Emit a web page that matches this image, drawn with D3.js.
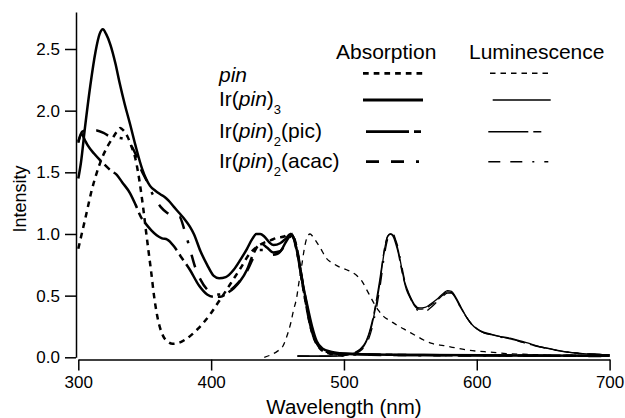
<!DOCTYPE html>
<html><head><meta charset="utf-8">
<script src="https://cdn.jsdelivr.net/npm/d3@7/dist/d3.min.js"></script>
<style>body{margin:0;background:#fff}svg{display:block}</style>
</head><body>
<svg id="c" width="625" height="418"></svg>
<script>
// ---- data ----
const xTicks = [300, 400, 500, 600, 700];
const yTicks = [0, 0.5, 1.0, 1.5, 2.0, 2.5];
const legendHeaders = ["Absorption", "Luminescence"];

const pinAbs = [[300,0.88],[303,1.02],[306,1.16],[310,1.35],[314,1.5],[318,1.62],[322,1.71],[326,1.78],[329,1.83],[331.5,1.86],[334,1.84],[337,1.79],[340,1.71],[343,1.61],[345,1.5],[347,1.36],[349,1.2],[351,1.02],[353,0.85],[355,0.68],[357,0.5],[359,0.36],[361,0.26],[364,0.17],[367,0.13],[371,0.11],[375,0.115],[380,0.14],[385,0.18],[390,0.23],[395,0.29],[400,0.36],[405,0.44],[410,0.52],[416,0.62],[422,0.72],[429,0.84],[435,0.9],[440,0.93],[445,0.95],[450,0.97],[455,0.98],[459,1.0],[461,0.99],[463,0.93],[466,0.78],[469,0.58],[472,0.4],[475,0.24],[478,0.14],[482,0.07],[488,0.035],[495,0.02],[500,0.015]];

const ir3Abs = [[300,1.45],[302,1.58],[305,1.86],[309,2.2],[313,2.48],[316,2.62],[318.5,2.66],[321,2.62],[324,2.54],[328,2.38],[331,2.23],[335,2.05],[339,1.89],[343,1.72],[348,1.53],[354,1.39],[358,1.35],[362,1.32],[365,1.3],[368,1.27],[372,1.22],[376,1.17],[380,1.12],[384,1.06],[387,1.0],[392,0.86],[397,0.75],[402,0.66],[406,0.64],[411,0.65],[417,0.71],[422,0.79],[427,0.88],[431,0.96],[434,1.0],[437,1.0],[440,0.98],[444,0.93],[447,0.91],[452,0.925],[456,0.96],[460,1.0],[462,0.97],[464.5,0.87],[468,0.65],[472,0.44],[476,0.25],[479.5,0.13],[484,0.07],[490,0.045],[500,0.03],[520,0.022],[560,0.018],[620,0.015],[700,0.012]];

const picAbs = [[300,1.74],[302.5,1.81],[305,1.76],[307,1.72],[312,1.65],[319,1.57],[325,1.51],[329,1.48],[333,1.42],[339,1.33],[343,1.24],[347,1.14],[351,1.08],[355,1.03],[359,0.99],[363,0.965],[367,0.955],[372,0.9],[377,0.82],[384,0.71],[391,0.58],[397,0.51],[402,0.49],[407,0.49],[412,0.52],[417,0.56],[422,0.62],[427,0.71],[431,0.82],[435,0.9],[438,0.92],[442,0.89],[447,0.85],[452,0.86],[456,0.93],[459,0.98],[461,1.0],[463,0.95],[465,0.86],[468,0.66],[471,0.46],[474,0.29],[477,0.17],[481,0.09],[487,0.045],[495,0.03],[520,0.022],[560,0.018],[620,0.015],[700,0.012]];

const acacAbs = [[300,1.75],[303,1.83],[308,1.845],[314,1.84],[319,1.82],[324,1.79],[330,1.78],[335,1.77],[339,1.73],[343,1.65],[347,1.53],[352,1.42],[357,1.3],[362,1.22],[367,1.17],[372,1.14],[376,1.14],[380,1.03],[384,0.88],[388,0.73],[392,0.63],[397,0.55],[403,0.51],[408,0.51],[414,0.54],[420,0.6],[427,0.7],[432,0.81],[436,0.87],[440,0.87],[445,0.83],[450,0.84],[455,0.9],[459,0.97],[461,0.99],[463,0.94],[466,0.79],[469,0.6],[472,0.42],[475,0.26],[478,0.15],[482,0.08],[488,0.04],[495,0.028],[520,0.02],[560,0.017],[620,0.014],[700,0.011]];

const pinLum = [[440,0.0],[445,0.02],[450,0.05],[454,0.09],[457,0.17],[460,0.28],[462,0.38],[464.5,0.49],[466,0.6],[468,0.73],[470.5,0.9],[472.5,0.98],[474.5,1.0],[476.5,0.98],[478.5,0.95],[482,0.89],[487,0.8],[492,0.76],[497,0.73],[502,0.71],[506,0.69],[510,0.66],[514,0.61],[517,0.55],[520,0.49],[523,0.43],[526,0.38],[530,0.33],[535,0.295],[540,0.26],[545,0.23],[550,0.2],[555,0.17],[560,0.14],[567,0.11],[575,0.095],[580,0.085],[592,0.06],[600,0.05],[610,0.042],[622,0.03],[635,0.025],[648,0.02],[660,0.012]];

const ir3Lum = [[465,0.012],[480,0.01],[490,0.01],[498,0.012],[503,0.02],[508,0.035],[512,0.06],[515,0.09],[517,0.13],[519,0.19],[521,0.26],[523,0.36],[525,0.47],[527,0.6],[529,0.76],[531,0.9],[533,0.98],[535,1.0],[537,0.99],[539,0.94],[541,0.86],[543,0.75],[545,0.64],[547,0.57],[550,0.49],[553,0.43],[557,0.4],[561,0.405],[565,0.43],[570,0.47],[575,0.52],[578,0.54],[581,0.535],[584,0.49],[588,0.41],[592,0.33],[596,0.27],[600,0.23],[605,0.205],[610,0.19],[617,0.17],[625,0.155],[632,0.135],[640,0.11],[648,0.085],[655,0.07],[662,0.055],[670,0.04],[680,0.03],[690,0.025],[700,0.02]];

const picLum = [[465,0.01],[480,0.01],[490,0.01],[498,0.013],[503,0.022],[508,0.038],[512,0.065],[515,0.1],[517,0.14],[519,0.2],[521,0.28],[523,0.38],[525,0.5],[527,0.63],[529,0.78],[531,0.91],[533,0.985],[535,1.0],[537,0.98],[539,0.92],[541,0.84],[543,0.73],[545,0.63],[547,0.55],[550,0.48],[553,0.42],[557,0.39],[561,0.395],[565,0.42],[570,0.46],[575,0.51],[578,0.53],[581,0.525],[584,0.48],[588,0.4],[592,0.33],[596,0.27],[600,0.235],[605,0.2],[610,0.185],[617,0.17],[625,0.15],[632,0.13],[640,0.105],[648,0.085],[655,0.068],[662,0.052],[670,0.04],[680,0.03],[690,0.024],[700,0.02]];

const acacLum = [[465,0.01],[480,0.01],[490,0.01],[498,0.011],[503,0.017],[508,0.03],[512,0.05],[515,0.08],[517,0.11],[519,0.16],[521,0.23],[523,0.32],[525,0.43],[527,0.56],[529,0.71],[531,0.86],[533,0.96],[535,1.0],[537,1.0],[539,0.95],[541,0.88],[543,0.77],[545,0.66],[547,0.57],[550,0.48],[553,0.41],[557,0.375],[561,0.37],[565,0.4],[570,0.45],[575,0.5],[578,0.52],[581,0.52],[584,0.48],[588,0.4],[592,0.33],[596,0.27],[600,0.23],[605,0.2],[610,0.185],[617,0.165],[625,0.15],[632,0.13],[640,0.105],[648,0.083],[655,0.066],[662,0.052],[670,0.04],[680,0.03],[690,0.024],[700,0.02]];

// ---- drawing ----
const FONT = "'Liberation Sans', Arial, Helvetica, sans-serif";
const svg = d3.select("#c").style("font-family", FONT);
const x = d3.scaleLinear().domain([300, 700]).range([78.3, 609.6]);
const y = d3.scaleLinear().domain([0, 2.8]).range([357.3, 12]);

const dashes = {
  pinA: "5.7,5", pinL: "5.5,5",
  solid: null,
  picA: "43,5,7,5", picL: "40,5,8,5",
  acacA: "13,12,13,12,3,12", acacL: "12,10,12,10,2,10"
};
const ABSW = 2.5, LUMW = 1.3;

const series = [
  {d: pinLum,  w: LUMW, dash: dashes.pinL},
  {d: ir3Lum,  w: LUMW, dash: dashes.solid},
  {d: picLum,  w: LUMW, dash: dashes.picL},
  {d: acacLum, w: LUMW, dash: dashes.acacL},
  {d: pinAbs,  w: ABSW, dash: dashes.pinA},
  {d: acacAbs, w: ABSW, dash: dashes.acacA},
  {d: picAbs,  w: ABSW, dash: dashes.picA},
  {d: ir3Abs,  w: ABSW, dash: dashes.solid}
];

const line = d3.line().x(d => x(d[0])).y(d => y(d[1])).curve(d3.curveMonotoneX);
svg.append("g").selectAll("path").data(series).join("path")
  .attr("d", s => line(s.d))
  .attr("fill", "none").attr("stroke", "#000")
  .attr("stroke-width", s => s.w)
  .attr("stroke-linejoin", "round")
  .attr("stroke-dasharray", s => s.dash);

// axes
const yAxis = svg.append("g").attr("transform", "translate(76,0)")
  .call(d3.axisLeft(y).tickValues(yTicks).tickFormat(d3.format(".1f")).tickSize(11).tickSizeOuter(0).tickPadding(5));
const xAxis = svg.append("g").attr("transform", "translate(0,359.5)")
  .call(d3.axisBottom(x).tickValues(xTicks).tickFormat(d3.format("d")).tickSize(11).tickSizeOuter(0).tickPadding(5));
[yAxis, xAxis].forEach(g => {
  g.selectAll("path,line").attr("stroke", "#000").attr("stroke-width", 1.5);
  g.selectAll("text").attr("fill", "#000").style("font-size", "17px").style("font-family", FONT);
});

svg.append("text").attr("x", 344).attr("y", 414).attr("text-anchor", "middle")
  .style("font-size", "20.5px").text("Wavelength (nm)");
svg.append("text").attr("transform", "translate(26,199) rotate(-90)").attr("text-anchor", "middle")
  .style("font-size", "18px").text("Intensity");

// legend
const LF = "21px";
svg.append("text").attr("x", 336).attr("y", 59.3).style("font-size", LF).text(legendHeaders[0]);
svg.append("text").attr("x", 469).attr("y", 59.3).style("font-size", LF).text(legendHeaders[1]);

const legendRows = [
  {parts: [["pin", "i"]], base: 82.3, ly: 73.3, a: [363, 423], l: [490, 550], da: dashes.pinA, dl: dashes.pinL},
  {parts: [["Ir(", ""], ["pin", "i"], [")", ""], ["3", "s"]], base: 106.3, ly: 100, a: [363, 423], l: [492.7, 550.7], da: null, dl: null},
  {parts: [["Ir(", ""], ["pin", "i"], [")", ""], ["2", "s"], ["(pic)", ""]], base: 138.3, ly: 131.7, a: [366, 422], l: [488.3, 545], da: dashes.picA, dl: dashes.picL},
  {parts: [["Ir(", ""], ["pin", "i"], [")", ""], ["2", "s"], ["(acac)", ""]], base: 168.3, ly: 161.7, a: [366, 424], l: [488.3, 548.3], da: dashes.acacA, dl: dashes.acacL}
];
legendRows.forEach(r => {
  const t = svg.append("text").attr("x", 219).attr("y", r.base).style("font-size", LF);
  let shifted = false;
  r.parts.forEach(p => {
    const ts = t.append("tspan").text(p[0]);
    if (p[1] === "i") ts.style("font-style", "italic");
    if (p[1] === "s") { ts.style("font-size", "13px").attr("dy", 8); shifted = true; }
    else if (shifted) { ts.attr("dy", -8); shifted = false; }
  });
  svg.append("line").attr("x1", r.a[0]).attr("x2", r.a[1]).attr("y1", r.ly).attr("y2", r.ly)
    .attr("stroke", "#000").attr("stroke-width", ABSW + 0.3).attr("stroke-dasharray", r.da);
  svg.append("line").attr("x1", r.l[0]).attr("x2", r.l[1]).attr("y1", r.ly).attr("y2", r.ly)
    .attr("stroke", "#000").attr("stroke-width", LUMW + 0.2).attr("stroke-dasharray", r.dl);
});
</script>
</body></html>
